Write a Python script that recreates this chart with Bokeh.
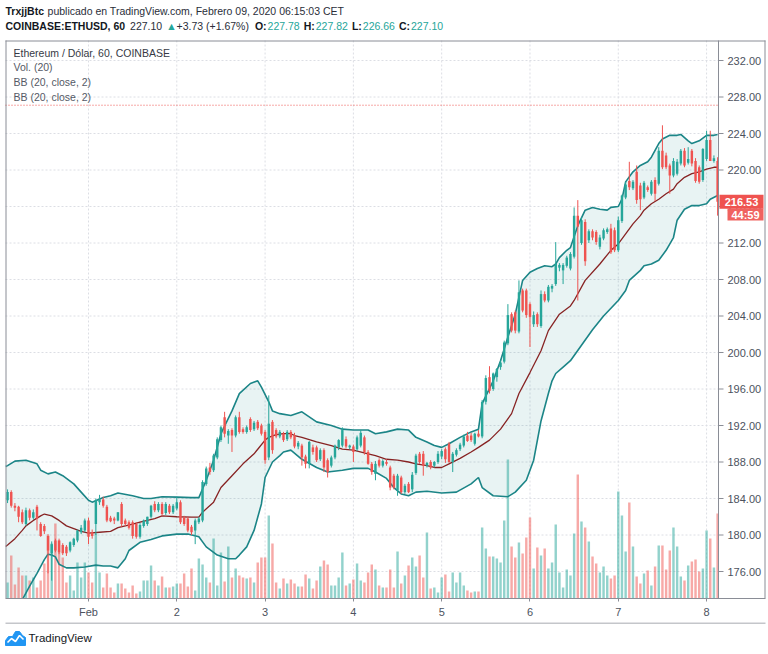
from bokeh.plotting import figure
from bokeh.layouts import column
from bokeh.models import ColumnDataSource, Range1d, LinearAxis, FixedTicker, Label
from bokeh.embed import file_html
from bokeh.resources import INLINE

# ---------------- data (60-min candles, hours relative to 1 Feb 2020 00:00) ----------------
FIRST_HOUR = -22
OPEN = [
    183.8, 184.7, 183.2, 183.1, 182.5, 181.2, 182.7, 181.9, 183.1, 181.2,
    181.0, 179.9, 178.0, 179.4, 179.4, 178.9, 178.7, 178.3, 178.9, 179.4,
    180.3, 180.5, 181.6, 180.3, 181.2, 183.6, 183.9, 183.1, 181.9, 181.8,
    181.6, 183.4, 181.6, 181.4, 181.4, 181.2, 179.8, 181.0, 181.2, 182.0,
    183.4, 182.7, 183.4, 182.4, 183.2, 182.5, 182.9, 183.6, 181.9, 181.8,
    180.9, 180.5, 181.4, 181.6, 185.6, 187.4, 187.1, 188.5, 190.4, 192.9,
    190.9, 191.5, 190.9, 192.9, 191.6, 191.3, 192.7, 191.6, 192.4, 192.0,
    191.3, 188.5, 192.4, 191.5, 190.8, 191.1, 190.5, 191.3, 190.9, 189.7,
    189.8, 188.6, 187.8, 189.6, 189.6, 188.3, 189.3, 188.2, 187.6, 188.5,
    189.6, 189.8, 190.5, 189.6, 189.7, 189.4, 189.8, 190.7, 189.1, 187.8,
    186.7, 188.2, 187.6, 188.0, 187.4, 186.5, 184.9, 186.3, 184.7, 185.6,
    185.0, 186.8, 188.9, 188.9, 187.6, 188.0, 187.6, 188.0, 188.6, 189.4,
    190.0, 188.0, 188.8, 189.4, 189.8, 190.9, 190.9, 190.0, 191.1, 190.8,
    194.6, 197.3, 196.0, 197.3, 198.4, 199.0, 201.0, 204.2, 204.4, 202.3,
    206.8, 206.8, 205.3, 203.1, 204.2, 202.9, 206.4, 205.7, 207.0, 207.5,
    209.3, 209.0, 209.5, 209.2, 210.5, 215.0, 212.0, 214.3, 212.3, 213.3,
    213.2, 211.6, 212.5, 213.2, 213.6, 213.4, 211.2, 214.4, 217.0, 218.8,
    218.0, 219.8, 218.3, 217.0, 218.1, 217.4, 218.9, 218.5, 222.1, 221.6,
    220.5, 219.4, 219.6, 220.7, 222.1, 220.8, 222.1, 221.0, 220.3, 218.9,
    221.2, 223.3, 221.0, 221.0]
HIGH = [
    185.0, 184.9, 183.5, 183.2, 182.8, 183.0, 182.9, 182.8, 183.3, 181.4,
    181.2, 180.1, 179.3, 179.6, 179.6, 179.1, 178.9, 179.3, 179.7, 180.6,
    181.1, 181.8, 181.9, 180.6, 184.0, 184.4, 184.2, 183.3, 182.1, 182.0,
    182.5, 183.6, 181.8, 181.6, 181.6, 181.4, 181.3, 181.7, 182.0, 183.3,
    183.7, 183.6, 183.6, 183.6, 183.4, 183.4, 184.2, 183.8, 182.1, 182.0,
    181.1, 181.8, 182.0, 186.0, 187.5, 187.9, 188.9, 190.7, 192.0, 193.5,
    191.6, 191.7, 193.1, 193.5, 191.8, 192.0, 192.9, 192.5, 192.6, 192.2,
    191.5, 195.3, 192.6, 191.7, 191.5, 191.3, 191.5, 191.5, 191.2, 190.3,
    190.0, 188.8, 190.3, 189.9, 189.8, 189.5, 189.5, 188.4, 188.7, 189.9,
    190.5, 191.8, 190.8, 189.9, 189.9, 190.9, 191.5, 190.9, 189.3, 188.0,
    188.1, 188.4, 188.3, 188.3, 187.6, 186.7, 186.7, 186.5, 185.6, 185.8,
    186.9, 188.9, 189.1, 189.2, 188.0, 188.2, 188.1, 189.2, 189.4, 189.6,
    190.2, 189.1, 189.5, 190.1, 191.0, 191.3, 191.2, 191.2, 191.5, 194.8,
    197.5, 198.5, 197.8, 198.3, 199.1, 201.3, 205.3, 204.4, 204.6, 207.9,
    207.0, 207.0, 205.5, 204.5, 204.4, 206.8, 206.7, 207.4, 207.5, 212.1,
    209.8, 209.8, 210.6, 211.0, 215.9, 216.7, 214.8, 214.6, 213.5, 213.5,
    213.4, 212.9, 213.6, 213.7, 214.1, 213.7, 214.9, 217.3, 218.7, 220.9,
    218.9, 220.5, 218.6, 218.8, 218.3, 218.9, 219.2, 222.5, 224.9, 221.9,
    220.7, 221.3, 221.2, 222.3, 222.4, 222.5, 222.3, 221.3, 220.5, 222.4,
    224.3, 224.3, 221.6, 221.4]
LOW = [
    183.5, 183.0, 182.6, 181.4, 181.2, 181.0, 181.6, 181.7, 180.5, 179.8,
    180.1, 175.8, 175.0, 178.1, 177.9, 177.8, 177.7, 178.1, 178.7, 179.2,
    180.1, 180.3, 179.0, 179.6, 180.0, 183.3, 183.0, 181.4, 181.4, 181.2,
    181.5, 180.9, 181.0, 180.6, 179.6, 179.6, 179.6, 180.8, 181.0, 181.8,
    182.5, 182.5, 182.1, 182.2, 182.3, 182.3, 182.7, 181.2, 181.0, 180.3,
    180.0, 179.0, 181.2, 181.4, 185.4, 186.6, 186.9, 188.3, 190.2, 190.7,
    190.0, 189.1, 190.7, 191.1, 191.1, 191.1, 191.3, 191.4, 191.5, 190.9,
    187.8, 188.2, 188.9, 190.6, 190.6, 190.2, 190.3, 190.5, 189.5, 189.4,
    187.6, 187.3, 187.3, 188.8, 188.0, 188.1, 186.9, 186.3, 187.4, 188.3,
    189.3, 189.6, 189.5, 189.4, 188.0, 189.2, 189.6, 188.8, 187.7, 186.6,
    186.0, 187.4, 187.4, 187.6, 184.9, 185.0, 184.3, 184.5, 184.5, 184.6,
    184.7, 186.6, 187.8, 186.5, 187.4, 187.2, 187.4, 187.8, 188.3, 187.9,
    187.9, 186.9, 188.6, 189.2, 189.6, 190.2, 190.2, 189.8, 190.7, 190.6,
    194.3, 195.5, 195.8, 196.8, 198.1, 198.8, 200.8, 202.2, 202.1, 202.1,
    204.4, 203.8, 200.6, 202.8, 202.8, 202.7, 205.5, 205.5, 206.6, 207.3,
    208.9, 207.5, 209.3, 209.0, 210.3, 205.7, 211.8, 209.5, 212.0, 212.3,
    211.8, 211.3, 212.3, 213.0, 210.8, 211.0, 211.0, 214.2, 216.8, 217.8,
    217.8, 216.3, 215.6, 216.8, 217.6, 217.2, 216.6, 218.3, 220.1, 220.1,
    217.4, 219.2, 219.4, 220.5, 220.3, 220.6, 220.4, 218.6, 218.5, 218.7,
    221.0, 221.0, 220.8, 215.0]
CLOSE = [
    184.7, 183.2, 183.0, 182.0, 181.4, 182.7, 181.9, 182.5, 181.8, 179.9,
    180.4, 178.3, 179.0, 178.3, 178.1, 178.0, 178.0, 179.2, 179.6, 180.5,
    180.8, 181.6, 179.8, 179.9, 183.8, 183.9, 183.2, 181.6, 181.5, 181.6,
    182.5, 181.2, 181.2, 180.8, 179.9, 179.8, 181.1, 181.6, 182.0, 183.2,
    182.7, 183.4, 182.3, 183.4, 182.5, 183.2, 183.6, 181.4, 181.2, 180.5,
    180.3, 181.6, 181.8, 185.8, 187.3, 186.9, 188.7, 190.5, 191.8, 191.1,
    191.4, 190.9, 192.9, 191.3, 191.3, 191.8, 191.5, 192.3, 191.7, 191.1,
    188.2, 192.2, 189.3, 190.8, 191.3, 190.4, 191.3, 190.7, 189.7, 190.1,
    188.5, 187.8, 190.2, 189.1, 188.2, 189.3, 187.4, 186.9, 188.5, 189.8,
    190.4, 191.5, 189.7, 189.8, 189.1, 190.7, 191.2, 189.1, 187.8, 186.9,
    187.8, 187.6, 188.1, 187.8, 185.2, 185.2, 186.5, 184.7, 185.4, 184.7,
    186.6, 188.7, 188.0, 187.6, 187.9, 187.4, 188.0, 188.9, 189.2, 188.3,
    188.0, 188.9, 189.3, 189.9, 190.8, 190.3, 190.4, 191.1, 190.8, 194.6,
    197.2, 195.8, 197.7, 198.2, 198.9, 201.1, 204.1, 202.4, 202.4, 206.6,
    204.6, 204.1, 203.9, 204.1, 203.1, 206.4, 205.7, 207.2, 207.3, 209.7,
    209.6, 209.6, 210.4, 210.8, 215.0, 213.8, 214.5, 210.0, 213.3, 212.6,
    212.1, 212.6, 213.4, 213.5, 211.0, 211.2, 214.5, 217.2, 218.4, 218.1,
    218.7, 216.7, 216.8, 218.6, 217.8, 218.7, 217.4, 222.1, 220.3, 220.3,
    219.4, 221.0, 220.9, 222.1, 220.5, 221.2, 220.7, 218.8, 218.7, 222.3,
    223.3, 221.0, 221.3, 216.53]
VOLUME = [
    16, 43, 14, 31, 23, 23, 18, 21, 11, 18, 35,
    63, 55, 75, 58, 41, 16, 23, 8, 36, 21, 36,
    26, 16, 65, 26, 11, 25, 11, 6, 15, 15, 10, 6, 13, 5, 7, 18, 18, 33, 18,
    13, 22, 11, 11, 12, 15, 15, 25, 12, 30, 8, 40, 34, 21, 16, 60, 13, 46, 17, 52,
    21, 30, 23, 21, 20, 21, 16, 36, 41, 41, 83, 55, 16, 10, 20, 15, 19, 15,
    12, 12, 24, 20, 10, 18, 32, 38, 34, 13, 13, 21, 46, 13, 15, 19, 35, 18, 16, 26,
    34, 29, 13, 11, 11, 29, 11, 47, 15, 23, 33, 41, 32, 43, 21,
    66, 10, 11, 6, 21, 24, 7, 26, 16, 26,
    13, 8, 6, 7, 7, 71, 50, 42, 42, 40, 36, 78, 139,
    52, 41, 56, 45, 61, 81, 30, 51, 43, 50, 30, 36, 74, 26, 11, 29, 23,
    65, 124, 77, 71, 57, 42, 35, 26, 32, 23, 20, 23, 107, 83, 47, 96, 52, 22, 15, 25,
    28, 13, 32, 53, 53, 29, 48, 71, 52, 22, 18, 33, 37, 39, 27, 30, 68, 60, 31, 85]

# Bollinger Bands (20, close, 2)
UPPER_H = [-22.5, -22, -20, -17, -14, -13, -11, -9, -7, -4, -2, 0, 1, 4, 6, 8, 12, 15, 17, 20,
           24, 28, 30, 32, 34, 36, 39, 41, 44, 46, 47, 49, 50, 52, 55, 58, 62, 66, 69, 72,
           76, 78, 81, 84, 87, 89, 92, 94, 96, 98, 101, 104, 106, 107, 110, 112, 114, 116, 118, 120,
           122, 124, 126, 127, 128, 130, 131, 133, 135, 137, 139, 141, 142, 144, 145, 146, 148, 150, 152, 153,
           155, 156, 158, 160, 161, 163, 164, 166, 168, 170, 171]
UPPER = [187.5, 187.6, 188.1, 188.2, 187.8, 187.1, 186.7, 186.9, 186.5, 185.6, 184.7, 183.8, 183.6, 184.1, 184.3, 184.6, 184.3, 184.0, 184.0, 184.2,
         184.15, 184.1, 184.1, 186.0, 188.2, 191.1, 193.6, 195.5, 196.6, 196.9, 196.2, 194.6, 193.6, 193.3, 193.1, 193.5, 192.4, 192.0, 191.6, 191.5,
         191.5, 191.1, 191.3, 191.6, 191.5, 190.7, 190.2, 189.8, 189.6, 190.0, 190.7, 191.3, 191.6, 194.4, 196.9, 199.1, 201.7, 204.2, 207.9, 208.8,
         209.2, 209.5, 209.4, 209.7, 210.4, 211.2, 211.5, 213.9, 215.6, 215.9, 215.7, 215.6, 215.9, 216.0, 216.8, 218.7, 219.8, 220.5, 220.9, 221.4,
         222.9, 223.4, 223.8, 223.8, 223.9, 223.2, 222.9, 223.2, 223.8, 223.8, 223.9]
BASIS_H = [-22.5, -22, -20, -18, -17, -15, -13, -12, -10, -8, -6, -4, -2, 0, 3, 6, 8, 10, 12, 14,
           16, 18, 20, 24, 28, 30, 31, 34, 36, 39, 42, 45, 46, 48, 49, 51, 53, 55, 56, 58,
           62, 66, 69, 72, 76, 78, 81, 84, 87, 89, 92, 94, 96, 98, 101, 104, 106, 109, 112, 115,
           117, 120, 123, 125, 128, 131, 132, 135, 139, 142, 144, 146, 148, 150, 151, 153, 155, 157, 159, 160,
           162, 164, 166, 168, 170, 171]
BASIS = [178.75, 178.9, 179.6, 180.5, 181.0, 181.6, 182.1, 182.3, 182.1, 181.6, 181.0, 180.7, 180.4, 180.2, 180.3, 180.4, 180.8, 181.0, 181.2, 181.4,
         181.6, 181.8, 182.1, 182.0, 181.96, 181.96, 182.5, 183.6, 185.2, 186.5, 187.8, 188.9, 189.4, 190.4, 190.7, 191.0, 191.1, 191.1, 190.9, 190.7,
         190.2, 189.8, 189.4, 189.3, 188.9, 188.7, 188.3, 188.2, 188.0, 187.8, 187.6, 187.4, 187.4, 187.8, 188.4, 189.1, 189.6, 190.4, 191.6, 193.3,
         195.5, 197.8, 200.2, 202.4, 204.2, 205.1, 205.7, 207.9, 209.7, 211.2, 211.9, 213.0, 214.1, 215.0, 215.6, 216.3, 216.8, 217.4, 217.9, 218.5,
         219.2, 219.6, 219.8, 220.1, 220.3, 220.3]
LOWER_H = [-22, -18, -16, -14, -12, -11, -10, -9, -8, -6, -4, -1, 2, 4, 6, 8, 10, 11, 14, 17,
           20, 24, 27, 30, 32, 35, 38, 40, 41, 43, 45, 47, 48, 50, 52, 53, 55, 58, 62, 65,
           69, 72, 76, 78, 81, 83, 85, 87, 89, 92, 96, 100, 104, 106, 107, 110, 114, 116, 119, 121,
           123, 125, 126, 127, 129, 131, 134, 137, 140, 144, 146, 147, 150, 151, 153, 155, 157, 159, 160, 162,
           164, 166, 168, 169, 171]
LOWER = [169.9, 172.9, 174.4, 175.8, 177.3, 177.9, 177.8, 177.6, 176.8, 176.4, 176.4, 176.5, 176.7, 176.6, 176.6, 176.4, 177.4, 178.3, 179.2, 179.5,
         179.9, 180.1, 180.1, 179.8, 178.7, 177.8, 177.4, 177.4, 177.8, 178.7, 180.5, 183.4, 186.3, 188.0, 188.7, 189.1, 189.3, 188.3, 187.4, 186.9,
         187.1, 187.3, 187.3, 186.9, 186.2, 185.2, 184.5, 184.3, 184.7, 184.8, 184.6, 184.7, 185.6, 186.3, 185.2, 184.3, 184.2, 184.7, 186.0, 188.2,
         192.5, 195.5, 196.9, 197.7, 198.4, 199.1, 200.8, 202.5, 204.0, 205.7, 206.8, 207.9, 209.0, 209.5, 209.7, 210.1, 211.2, 212.6, 214.5, 215.7,
         216.1, 216.1, 216.3, 216.8, 217.2]

DAY_TICKS = [0, 24, 48, 72, 96, 120, 144, 168]
DAY_LABELS = ["Feb", "2", "3", "4", "5", "6", "7", "8"]
PRICE_TICKS = [176, 180, 184, 188, 192, 196, 200, 204, 208, 212, 216, 220, 224, 228, 232]
LAST_PRICE = 216.53
COUNTDOWN = "44:59"
PRICE_LINE = 227.10

# ---------------- layout helpers (pixel -> data) ----------------
W = 768
MAIN_H, FOOT_H = 622, 32
PANE_L, PANE_R, PANE_T, PANE_B, BOX_R = 5, 718, 40, 598, 765

def hx(px):   # page x -> hour
    return (px - 88) / 3.679

def py(px):   # page y -> price
    return 232 - (px - 60) / 9.125

UP, DOWN = "#26a69a", "#ef5350"
FONT = "Liberation Sans"
LINE = "#8a8d96"

p = figure(width=W, height=MAIN_H, output_backend="svg", toolbar_location=None,
           x_range=Range1d(hx(0), hx(W)), y_range=Range1d(py(PANE_B), py(0)),
           x_axis_type=None, y_axis_type=None,
           min_border_left=0, min_border_right=0, min_border_top=0, min_border_bottom=MAIN_H - PANE_B,
           background_fill_color="white", border_fill_color="white", outline_line_color=None)
p.extra_y_ranges = {"vol": Range1d(0, PANE_B)}

# time axis
xaxis = LinearAxis(ticker=FixedTicker(ticks=DAY_TICKS),
                   major_label_overrides={t: s for t, s in zip(DAY_TICKS, DAY_LABELS)},
                   bounds=(hx(PANE_L), hx(BOX_R)),
                   major_tick_out=3, major_tick_in=0, minor_tick_line_color=None,
                   major_label_standoff=4, axis_line_color=LINE, major_tick_line_color=LINE,
                   major_label_text_font=FONT, major_label_text_font_size="11px",
                   major_label_text_color="#4c525e")
p.add_layout(xaxis, "below")

# grid lines inside the pane
GRID = dict(line_color="#dcdee4", line_dash="2 2", line_width=1)
p.segment(x0=DAY_TICKS, y0=[py(PANE_B)] * len(DAY_TICKS), x1=DAY_TICKS, y1=[py(PANE_T)] * len(DAY_TICKS), **GRID)
p.segment(x0=[hx(PANE_L)] * len(PRICE_TICKS), y0=PRICE_TICKS, x1=[hx(PANE_R)] * len(PRICE_TICKS), y1=PRICE_TICKS, **GRID)

# Bollinger band fill
p.patch(UPPER_H + LOWER_H[::-1], UPPER + LOWER[::-1], fill_color="#198787", fill_alpha=0.1, line_color=None)

# candles + volume
hours = [FIRST_HOUR + i for i in range(len(CLOSE))]
up = [c >= o for o, c in zip(OPEN, CLOSE)]
src = ColumnDataSource(dict(
    t=hours, o=OPEN, h=HIGH, l=LOW, c=CLOSE, vol=VOLUME,
    top=[max(o, c) for o, c in zip(OPEN, CLOSE)],
    bot=[min(o, c) for o, c in zip(OPEN, CLOSE)],
    color=[UP if u else DOWN for u in up]))

p.vbar(x="t", width=0.66, top="vol", bottom=0, y_range_name="vol", source=src,
       fill_color="color", fill_alpha=0.5, line_color=None)

p.line(UPPER_H, UPPER, line_color="#1b8587", line_width=1.6)
p.line(LOWER_H, LOWER, line_color="#1b8587", line_width=1.6)
p.line(BASIS_H, BASIS, line_color="#872323", line_width=1.3)

p.segment(x0="t", y0="h", x1="t", y1="l", line_color="color", line_width=1, source=src)
p.vbar(x="t", width=0.66, top="top", bottom="bot", fill_color="color", line_color=None, source=src)

# last-price line
p.segment(x0=[hx(PANE_L)], y0=[PRICE_LINE], x1=[hx(PANE_R)], y1=[PRICE_LINE],
          line_color=DOWN, line_dash="1 2", line_width=1)

# pane frame and price-scale column
p.segment(x0=[hx(PANE_L + 0.5), hx(PANE_L), hx(BOX_R - 0.5), hx(PANE_R)],
          y0=[py(PANE_B), py(PANE_T + 0.5), py(PANE_B), py(PANE_B)],
          x1=[hx(PANE_L + 0.5), hx(BOX_R), hx(BOX_R - 0.5), hx(PANE_R)],
          y1=[py(PANE_T), py(PANE_T + 0.5), py(PANE_T), py(PANE_T)],
          line_color=LINE, line_width=1)

# price scale: ticks and labels
p.segment(x0=[hx(PANE_R)] * len(PRICE_TICKS), y0=PRICE_TICKS,
          x1=[hx(PANE_R + 5)] * len(PRICE_TICKS), y1=PRICE_TICKS, line_color=LINE, line_width=1)
p.text(x=[hx(PANE_R + 9)] * len(PRICE_TICKS), y=PRICE_TICKS, text=[f"{v:.2f}" for v in PRICE_TICKS],
       text_font={"value": FONT}, text_font_size="11px", text_color="#4c525e",
       text_baseline="middle", text_align="left")

# last price + countdown tags
p.rect(x=[hx(741)], y=[LAST_PRICE], width=44, height=14, width_units="screen", height_units="screen",
       fill_color=DOWN, line_color=None)
p.text(x=[hx(741)], y=[LAST_PRICE], text=[f"{LAST_PRICE:.2f}"], text_font={"value": FONT},
       text_font_size="11px", text_font_style="bold", text_color="white",
       text_align="center", text_baseline="middle")
p.rect(x=[hx(745)], y=[py(214)], width=36, height=12, width_units="screen", height_units="screen",
       fill_color="#f0625f", line_color=None)
p.text(x=[hx(745)], y=[py(214)], text=[COUNTDOWN], text_font={"value": FONT},
       text_font_size="11px", text_font_style="bold", text_color="white",
       text_align="center", text_baseline="middle")

# ---------------- texts ----------------
REG = {' ': 278, 'a': 556, 'b': 556, 'c': 500, 'd': 556, 'e': 556, 'f': 278, 'g': 556, 'h': 556, 'i': 222,
       'j': 222, 'k': 500, 'l': 222, 'm': 833, 'n': 556, 'o': 556, 'p': 556, 'q': 556, 'r': 333, 's': 500,
       't': 278, 'u': 556, 'v': 500, 'w': 722, 'x': 500, 'y': 500, 'z': 500, '.': 278, ',': 278, ':': 278,
       '(': 333, ')': 333, '+': 584, '%': 889, '/': 278, '-': 333, 'T': 611, 'V': 667, 'F': 611, 'C': 722,
       'E': 667, 'O': 778, 'H': 722, 'L': 556, '▲': 700}
BOLD = {' ': 278, 'B': 722, 'c': 556, 'j': 278, 'r': 389, 't': 333, 'x': 556, 'T': 611, ',': 278, ':': 333,
        'O': 778, 'H': 722, 'L': 611, 'C': 722, 'I': 278, 'N': 722, 'A': 722, 'S': 667, 'E': 667,
        'U': 722, 'D': 722}

def tw(s, size, bold=False):
    tab = BOLD if bold else REG
    return sum(tab.get(ch, 556) for ch in s) * size / 1000.0

def put(fig, x, y, text, color="#131722", size=10.5, bold=False):
    fig.add_layout(Label(x=x, y=y, text=text, text_font=FONT, text_font_size=f"{size}px",
                         text_font_style="bold" if bold else "normal", text_color=color,
                         text_align="left", text_baseline="middle"))

def put_px(x, y, text, **kw):
    put(p, hx(x), py(y), text, **kw)
    return x + tw(text, kw.get("size", 10.5), kw.get("bold", False))

# header line 1
x = put_px(5, 10, "TrxjjBtc", bold=True)
put_px(x + 3, 10, "publicado en TradingView.com, Febrero 09, 2020 06:15:03 CET", color="#2a2e39")

# header line 2
segs = [("COINBASE:ETHUSD, 60", "#131722", True, 5), ("227.10", "#2a2e39", False, 4), ("▲", UP, False, 3),
        ("+3.73 (+1.67%)", "#2a2e39", False, 6), ("O:", "#131722", True, 1), ("227.78", UP, False, 4),
        ("H:", "#131722", True, 1), ("227.82", UP, False, 4), ("L:", "#131722", True, 1),
        ("226.66", UP, False, 4), ("C:", "#131722", True, 1), ("227.10", UP, False, 0)]
x = 5
for text, col, b, gap in segs:
    x = put_px(x, 25, text, color=col, size=10.5, bold=b) + gap

# legend inside the pane
LEGEND = [("Ethereum / Dólar, 60, COINBASE", "#363a45"), ("Vol. (20)", "#555a66"),
          ("BB (20, close, 2)", "#555a66"), ("BB (20, close, 2)", "#555a66")]
for i, (text, col) in enumerate(LEGEND):
    put_px(13, 52 + i * 14.7, text, color=col, size=10.5)

# ---------------- footer: bottom border + TradingView logo ----------------
f = figure(width=W, height=FOOT_H, output_backend="svg", toolbar_location=None,
           x_range=Range1d(0, W), y_range=Range1d(FOOT_H, 0),
           x_axis_type=None, y_axis_type=None,
           min_border_left=0, min_border_right=0, min_border_top=0, min_border_bottom=0,
           background_fill_color="white", border_fill_color="white", outline_line_color=None)
f.segment(x0=[PANE_L], y0=[0.5], x1=[BOX_R], y1=[0.5], line_color=LINE, line_width=1)
CLOUD_X = [5, 5, 8, 12, 15, 19, 22, 25, 25]
CLOUD_Y = [23, 18, 14, 14, 9, 9, 13, 15, 23]
f.patch(CLOUD_X, CLOUD_Y, fill_color="#2196f3", line_color="#2196f3", line_width=1)
f.line([7, 11, 15, 19, 23], [20, 16, 19, 13, 17], line_color="white", line_width=1.6)
put(f, 28, 15, "TradingView", color="#131722", size=11.5)

open("out.html", "w").write(file_html(column(p, f), INLINE))
